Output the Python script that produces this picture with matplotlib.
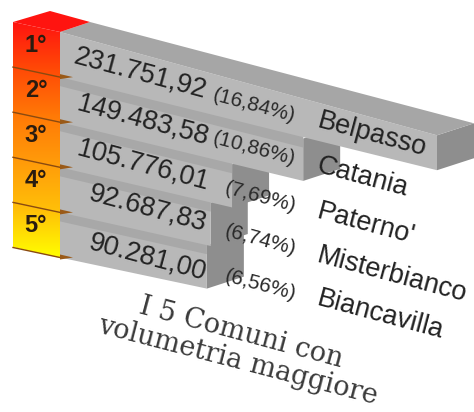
import matplotlib
matplotlib.use('Agg')
import matplotlib.pyplot as plt
import numpy as np
from matplotlib.colors import LinearSegmentedColormap
from matplotlib.patches import Polygon

# data
ranks = ['1°', '2°', '3°', '4°', '5°']
comuni = ['Belpasso', 'Catania', "Paterno'", 'Misterbianco', 'Biancavilla']
volumes = [231751.92, 149483.58, 105776.01, 92687.83, 90281.00]
volume_labels = ['231.751,92', '149.483,58', '105.776,01', '92.687,83', '90.281,00']
percent_labels = ['(16,84%)', '(10,86%)', '(7,69%)', '(6,74%)', '(6,56%)']
title_lines = ['I 5 Comuni con', 'volumetria maggiore']

# picture geometry, in pixels
X0 = 60
PX_PER_VALUE = 377 / 231751.92
DEPTH_X, DEPTH_Y = 37, -12


def edge_y(x, row):
    # the rows fan out a little, like in a perspective view
    y = 32 + 45.1 * row + (x - X0) * (0.274 - 0.0112 * row)
    return y - min(row, 1) * 4.2e-5 * (x - X0) ** 2


fig = plt.figure(figsize=(4.74, 4.12), dpi=100)
ax = fig.add_axes([0, 0, 1, 1])
ax.set_xlim(0, 474)
ax.set_ylim(412, 0)
ax.axis('off')

# bars, the lowest first so the upper ones cover their end caps
for i in reversed(range(len(volumes))):
    xe = X0 + volumes[i] * PX_PER_VALUE
    y0, y1 = edge_y(X0, i), edge_y(X0, i + 1)
    ye0, ye1 = edge_y(xe, i), edge_y(xe, i + 1)
    # rows below the first start a bit higher, the row above covers the overlap
    lap = 5 if i > 0 else 0
    ax.add_patch(Polygon([(xe, ye0), (xe + DEPTH_X, ye0 + DEPTH_Y),
                          (xe + DEPTH_X, ye1 + DEPTH_Y), (xe, ye1)],
                         fc='#8e8e8e', ec='none', zorder=2 + 2 * (4 - i)))
    ax.add_patch(Polygon([(X0, y0 - lap), (xe, ye0 - lap), (xe, ye1), (X0, y1)],
                         fc='#b8b8b8', ec='none', zorder=3 + 2 * (4 - i)))
    if i > 0:
        # darker strip where a row meets the one above it
        ax.add_patch(Polygon([(X0, y0 - lap), (xe, ye0 - lap), (xe, ye0 + 9), (X0, y0 + 9)],
                             fc='#a8a8a8', ec='none', zorder=3 + 2 * (4 - i)))

# top face of the first bar
xe = X0 + volumes[0] * PX_PER_VALUE
ax.add_patch(Polygon([(X0, edge_y(X0, 0)), (xe, edge_y(xe, 0)),
                      (xe + DEPTH_X, edge_y(xe, 0) + DEPTH_Y), (X0 + 30, 22)],
                     fc='#a6a6a6', ec='none', zorder=12))

# coloured block on the left
cmap = LinearSegmentedColormap.from_list('rank', ['#ff1410', '#ff4a06', '#ff7a06', '#ff9c0a', '#ffc008', '#ffff00'])
grad = ax.imshow(np.linspace(0, 1, 256).reshape(-1, 1), cmap=cmap, extent=(13, 60, 258, 22),
                 aspect='auto', zorder=13)
block = Polygon([(13, 22), (60, 32), (60, 258), (13, 247)], fc='none', ec='none',
                transform=ax.transData)
ax.add_patch(block)
grad.set_clip_path(block)
ax.set_xlim(0, 474)
ax.set_ylim(412, 0)
ax.add_patch(Polygon([(13, 22), (50, 11), (90, 22), (60, 32)], fc='#ff1410', ec='none', zorder=14))

for i in range(1, len(ranks) + 1):
    ys = edge_y(X0, i)
    ax.plot([13, X0], [ys - 10, ys], color='#8a4a10', lw=1.0, zorder=15)
    ax.add_patch(Polygon([(X0, ys - 3), (X0 + 13, ys), (X0, ys + 2)], fc='#9a5a18', ec='none', zorder=15))

for i, rank in enumerate(ranks):
    ax.text(36, edge_y(X0, i) + 13, rank, fontsize=17, fontweight='bold', family='Liberation Sans',
            color='#2a1c10', ha='center', va='center', zorder=16)

# rotated labels
ROT = -15
volume_xy = [(73, 63), (76, 110), (76, 155), (88, 200), (88, 249)]
percent_xy = [(212, 100), (212, 143), (224, 193), (224, 236), (224, 281)]
name_xy = [(316, 127), (316, 172), (316, 218), (316, 262), (316, 305)]
for i in range(len(volumes)):
    ax.text(*volume_xy[i], volume_labels[i], fontsize=19.5, family='Liberation Sans', color='#222222',
            rotation=ROT, rotation_mode='anchor', ha='left', va='baseline', zorder=20)
    ax.text(*percent_xy[i], percent_labels[i], fontsize=15, family='Liberation Sans', color='#2a2a2a',
            rotation=ROT, rotation_mode='anchor', ha='left', va='baseline', zorder=20)
    ax.text(*name_xy[i], comuni[i], fontsize=19.5, family='Liberation Sans', color='#222222',
            rotation=ROT, rotation_mode='anchor', ha='left', va='baseline', zorder=20)

title_xy = [(138, 313), (97, 332)]
title_rot = [-15, -14.5]
for xy, rot, line in zip(title_xy, title_rot, title_lines):
    ax.text(*xy, line, fontsize=19.5, family='DejaVu Serif', color='#3a3a3a',
            rotation=rot, rotation_mode='anchor', ha='left', va='baseline', zorder=20)

fig.savefig('out.png', dpi=100)
